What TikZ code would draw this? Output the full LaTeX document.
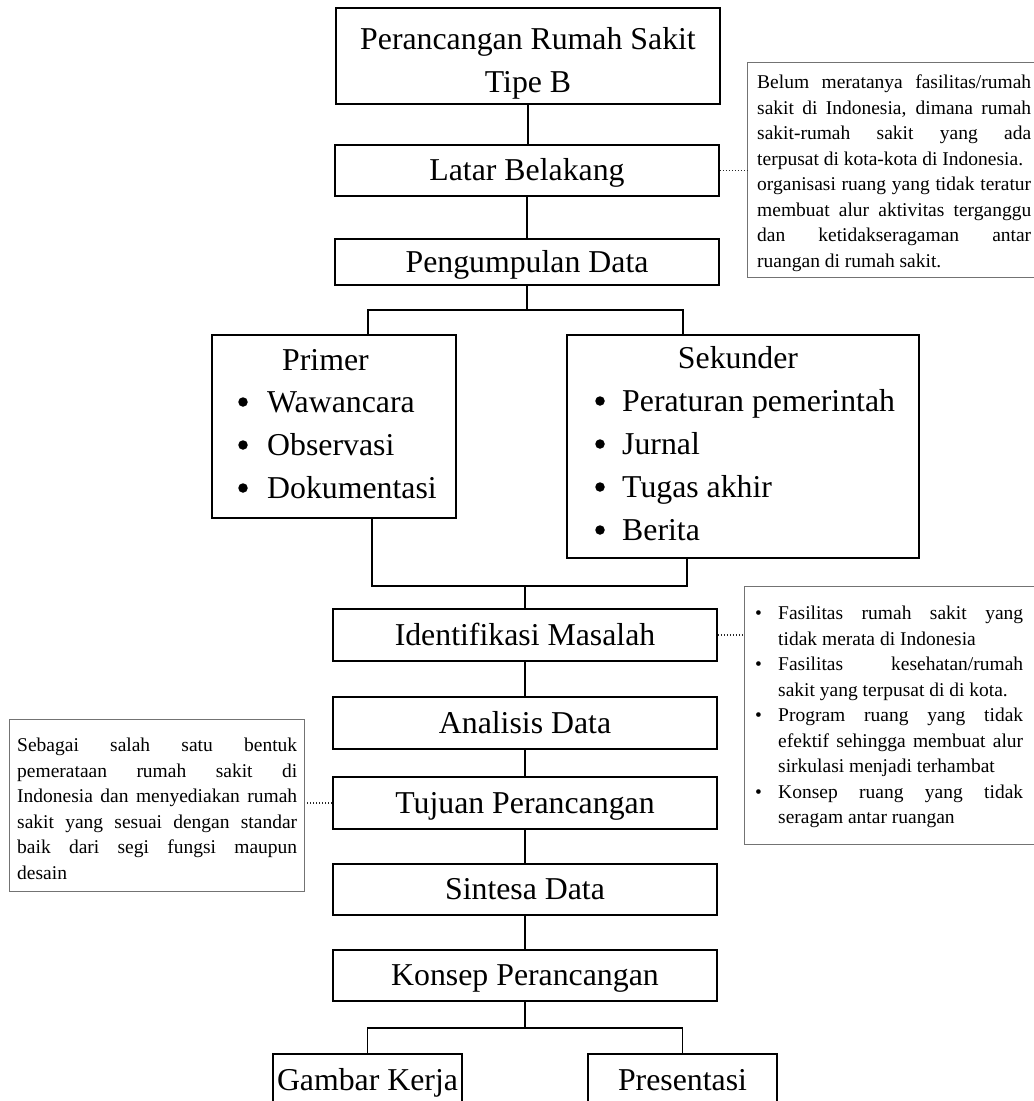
\documentclass[tikz,border=0pt]{standalone}
\usepackage{fontspec}
\setmainfont{Liberation Serif}
\newcommand\notesetup{\parindent=0pt\relax\hyphenpenalty=10000\relax\exhyphenpenalty=10000\relax}
\newcommand\nbul{\hangindent=23pt\relax\hangafter=1\relax\noindent\makebox[23pt][l]{\textbullet}}
\begin{document}
\begin{tikzpicture}[x=1pt,y=-1pt,
  mainbox/.style={draw, line width=1.8pt, minimum width=384pt, minimum height=51pt, inner sep=0pt,
    text height=22pt, text depth=2pt, font=\fontsize{31.8}{43}\selectfont},
  listbox/.style={draw, line width=1.8pt, inner sep=0pt},
  bigdot/.style={circle, fill, inner sep=0pt, minimum size=9.5pt},
  notebox/.style={draw=black!55, line width=1.4pt, inner sep=0pt, anchor=north west},
  notetxt/.style={inner sep=0pt, anchor=north west, align=justify,
    font=\fontsize{19.5}{25.5}\selectfont\notesetup},
  itemtxt/.style={inner sep=0pt, anchor=base west, font=\fontsize{31.8}{37}\selectfont},
  conn/.style={line width=1.8pt},
  dotline/.style={line width=1.7pt, dash pattern=on 1.5pt off 1.5pt, draw=black!85}]
\useasboundingbox (0,0) rectangle (1034,1101);
\fill[white] (0,0) rectangle (1034,1101);
\clip (0,0) rectangle (1034,1101);

% main column
\node[mainbox, minimum height=96pt, text height=, text depth=] (top) at (528,56) {};
\node[inner sep=0pt, align=center, font=\fontsize{31.8}{43}\selectfont] (topT) at (528,63) {Perancangan Rumah Sakit\\Tipe B};
\node[mainbox] (latar) at (527,170.5) {Latar Belakang};
\node[mainbox, minimum height=46pt] (kumpul) at (527,262) {Pengumpulan Data};

\node[listbox, minimum width=244pt, minimum height=183pt] (primer) at (334,426.5) {};
\node[itemtxt, anchor=base] (primerT) at (325.5,370) {Primer};
\node[bigdot] (pb1) at (243,402) {};
\node[bigdot] (pb2) at (243,445) {};
\node[bigdot] (pb3) at (243,488) {};
\node[itemtxt] (p1) at (267,412) {Wawancara};
\node[itemtxt] (p2) at (267,455) {Observasi};
\node[itemtxt] (p3) at (267,498) {Dokumentasi};

\node[listbox, minimum width=352pt, minimum height=223pt] (sekunder) at (743,446.5) {};
\node[itemtxt, anchor=base] (sekunderT) at (738,368) {Sekunder};
\node[bigdot] (sb1) at (600,401) {};
\node[bigdot] (sb2) at (600,444) {};
\node[bigdot] (sb3) at (600,487) {};
\node[bigdot] (sb4) at (600,530) {};
\node[itemtxt] (s1) at (622,411) {Peraturan pemerintah};
\node[itemtxt] (s2) at (622,454) {Jurnal};
\node[itemtxt] (s3) at (622,497) {Tugas akhir};
\node[itemtxt] (s4) at (622,540) {Berita};

\node[mainbox, minimum height=52pt] (ident) at (525,635) {Identifikasi Masalah};
\node[mainbox, minimum height=52pt] (anal) at (525,723) {Analisis Data};
\node[mainbox, minimum height=52pt] (tujuan) at (525,803) {Tujuan Perancangan};
\node[mainbox] (sintesa) at (525,889.5) {Sintesa Data};
\node[mainbox] (konsep) at (525,975.5) {Konsep Perancangan};
\node[mainbox, minimum width=189pt, minimum height=52pt] (gambar) at (367.5,1080) {Gambar Kerja};
\node[mainbox, minimum width=189pt, minimum height=52pt] (presentasi) at (682.5,1080) {Presentasi};

% connectors
\draw[conn] (top.south) -- (top.south |- latar.north);
\draw[conn] (latar.south) -- (latar.south |- kumpul.north);
\coordinate (bl) at (368,310);
\coordinate (br) at (683,310);
\draw[conn] (kumpul.south) -- (kumpul.south |- bl);
\draw[conn] (bl |- primer.north) -- (bl) -- (br) -- (br |- sekunder.north);
\coordinate (jl) at (372,586);
\coordinate (jr) at (687,586);
\draw[conn] (jl |- primer.south) -- (jl) -- (jr) -- (jr |- sekunder.south);
\draw[conn] (ident.north |- jl) -- (ident.north);
\draw[conn] (ident.south) -- (ident.south |- anal.north);
\draw[conn] (anal.south) -- (anal.south |- tujuan.north);
\draw[conn] (tujuan.south) -- (tujuan.south |- sintesa.north);
\draw[conn] (sintesa.south) -- (sintesa.south |- konsep.north);
\coordinate (kl) at (367.5,1028);
\coordinate (kr) at (682.5,1028);
\draw[conn] (konsep.south) -- (konsep.south |- kl);
\draw[conn] (kl |- gambar.north) -- (kl) -- (kr) -- (kr |- presentasi.north);

% notes
\node[notebox, minimum width=310pt, minimum height=215pt] (note1) at (747,62) {};
\node[notetxt, text width=274pt] (note1txt) at (757,75) {Belum meratanya fasilitas/rumah\linebreak
sakit di Indonesia, dimana rumah\linebreak
sakit-rumah sakit yang ada\linebreak
terpusat di kota-kota di Indonesia.\par
organisasi ruang yang tidak teratur\linebreak
membuat alur aktivitas terganggu\linebreak
dan ketidakseragaman antar\linebreak
ruangan di rumah sakit.\par};

\node[notebox, minimum width=310pt, minimum height=258pt] (note2) at (744,586) {};
\node[notetxt, text width=268pt] (note2txt) at (755,606) {%
\nbul Fasilitas rumah sakit yang\linebreak
tidak merata di Indonesia\par
\nbul Fasilitas kesehatan/rumah\linebreak
sakit yang terpusat di di kota.\par
\nbul Program ruang yang tidak\linebreak
efektif sehingga membuat alur\linebreak
sirkulasi menjadi terhambat\par
\nbul Konsep ruang yang tidak\linebreak
seragam antar ruangan\par};

\node[notebox, minimum width=295pt, minimum height=172pt] (note3) at (9,719) {};
\node[notetxt, text width=280pt] (note3txt) at (17,738) {Sebagai salah satu bentuk\linebreak
pemerataan rumah sakit di\linebreak
Indonesia dan menyediakan rumah\linebreak
sakit yang sesuai dengan standar\linebreak
baik dari segi fungsi maupun\linebreak
desain\par};

\draw[dotline] (latar.east) -- (latar.east -| note1.west);
\draw[dotline] (ident.east) -- (ident.east -| note2.west);
\draw[dotline] (tujuan.west) -- (tujuan.west -| note3.east);
\end{tikzpicture}
\end{document}
